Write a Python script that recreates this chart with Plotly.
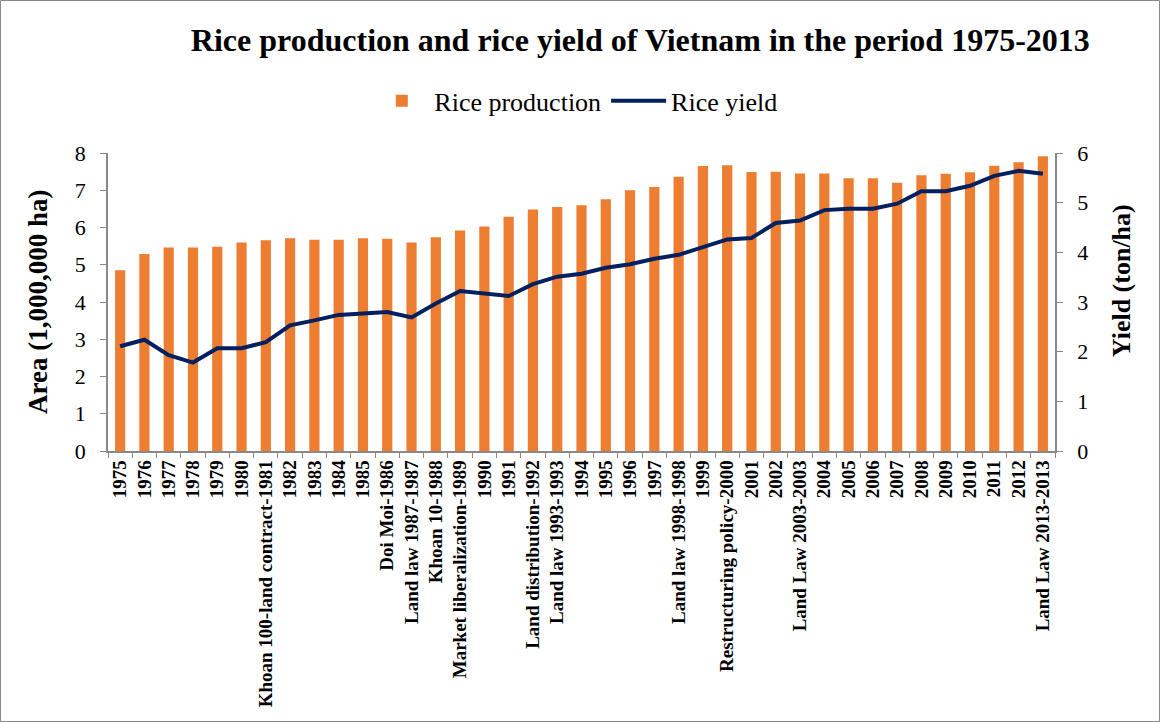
import plotly.graph_objects as go

years = list(range(1975, 2014))
events = {
    1981: "Khoan 100-land contract-1981",
    1986: "Doi Moi-1986",
    1987: "Land law 1987-1987",
    1988: "Khoan 10-1988",
    1989: "Market liberalization-1989",
    1992: "Land distribution-1992",
    1993: "Land law 1993-1993",
    1998: "Land law 1998-1998",
    2000: "Restructuring policy-2000",
    2003: "Land Law 2003-2003",
    2013: "Land Law 2013-2013",
}
labels = [events.get(y, str(y)) for y in years]

rice_production = [4.85, 5.29, 5.46, 5.46, 5.48, 5.60, 5.66, 5.71, 5.67, 5.67,
                   5.71, 5.70, 5.60, 5.74, 5.92, 6.03, 6.29, 6.48, 6.55, 6.60,
                   6.76, 7.00, 7.09, 7.36, 7.65, 7.67, 7.49, 7.50, 7.45, 7.45,
                   7.32, 7.32, 7.20, 7.40, 7.44, 7.48, 7.66, 7.75, 7.91]

rice_yield = [2.11, 2.24, 1.93, 1.78, 2.07, 2.07, 2.19, 2.53, 2.63, 2.74,
              2.77, 2.80, 2.69, 2.97, 3.22, 3.18, 3.12, 3.36, 3.51, 3.57,
              3.69, 3.76, 3.87, 3.95, 4.11, 4.26, 4.29, 4.59, 4.64, 4.85,
              4.88, 4.88, 4.98, 5.23, 5.23, 5.34, 5.54, 5.64, 5.58]

FONT = "Liberation Serif, Times New Roman, serif"
ORANGE = "#ED7D31"
NAVY = "#002060"
GREY = "#898989"

fig = go.Figure()

fig.add_trace(go.Bar(x=labels, y=rice_production, name="Rice production",
                     marker=dict(color=ORANGE, line=dict(width=0))))
fig.add_trace(go.Scatter(x=labels, y=rice_yield, name="Rice yield", mode="lines",
                         line=dict(color=NAVY, width=4), yaxis="y2"))

fig.update_layout(
    width=1160, height=722,
    margin=dict(l=108, r=105, t=153, b=271),
    paper_bgcolor="white", plot_bgcolor="white",
    font=dict(family=FONT, color="black"),
    title=dict(text="<b>Rice production and rice yield of Vietnam in the period 1975-2013</b>",
               x=0.552, xanchor="center", y=0.945, yanchor="middle",
               font=dict(size=32, family=FONT)),
    legend=dict(orientation="h", x=0.494, xanchor="center", y=1.175, yanchor="middle",
                font=dict(size=26, family=FONT), itemwidth=55, bgcolor="rgba(0,0,0,0)"),
    bargap=0.58,
    xaxis=dict(type="category", tickangle=-90,
               tickfont=dict(size=19, family=FONT, weight="bold"),
               showline=True, linecolor=GREY, linewidth=1.5,
               ticks="outside", tickson="boundaries", ticklen=5, tickcolor=GREY,
               showgrid=False, automargin=False),
    yaxis=dict(range=[0, 8], dtick=1, showline=True, linecolor=GREY, linewidth=1.5,
               ticks="outside", ticklen=6, tickcolor=GREY, showgrid=False,
               tickfont=dict(size=22, family=FONT), ticklabelstandoff=10,
               zeroline=False, automargin=False),
    yaxis2=dict(range=[0, 6], dtick=1, overlaying="y", side="right", showline=True,
                linecolor=GREY, linewidth=1.5, ticks="outside", ticklen=6,
                tickcolor=GREY, showgrid=False, tickfont=dict(size=22, family=FONT),
                ticklabelstandoff=10, zeroline=False, automargin=False),
    annotations=[
        dict(text="<b>Area (1,000,000 ha)</b>", textangle=-90, xref="paper", yref="paper",
             x=-0.074, y=0.5, xanchor="center", yanchor="middle", showarrow=False,
             font=dict(size=27, family=FONT)),
        dict(text="<b>Yield (ton/ha)</b>", textangle=-90, xref="paper", yref="paper",
             x=1.0697, y=0.57, xanchor="center", yanchor="middle", showarrow=False,
             font=dict(size=26, family=FONT)),
    ],
    shapes=[dict(type="rect", xref="paper", yref="paper",
                 x0=-107.5 / 947, x1=1051.5 / 947, y0=-270.5 / 298, y1=450.5 / 298,
                 line=dict(color=GREY, width=1), fillcolor="rgba(0,0,0,0)", layer="below")],
)

fig.write_html("out.html", config={"displayModeBar": False},
               post_script="document.body.style.margin='0';")
